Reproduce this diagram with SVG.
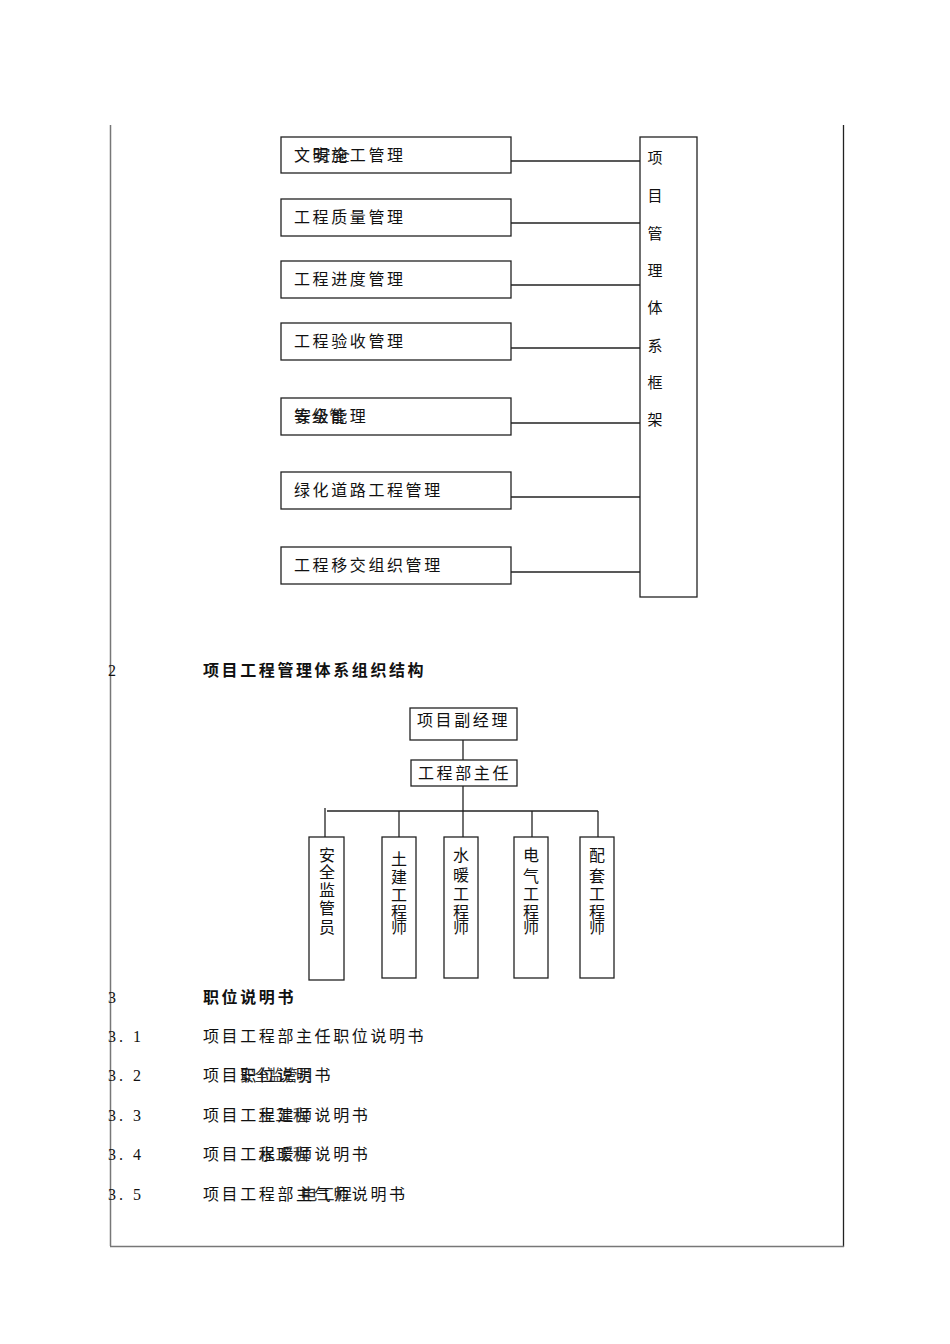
<svg xmlns="http://www.w3.org/2000/svg" width="950" height="1344" viewBox="0 0 950 1344">
<style>
.bx{fill:#fff;stroke:#222;stroke-width:1.3}
.ln{stroke:#222;stroke-width:1.3;fill:none}
.t{font-family:"Noto Sans CJK SC","Noto Sans CJK JP",sans-serif;font-size:16px;fill:#111;letter-spacing:2.6px}
.tv{font-family:"Noto Sans CJK SC","Noto Sans CJK JP",sans-serif;font-size:16px;fill:#111;text-anchor:middle}
.tb{font-family:"Noto Sans CJK SC","Noto Sans CJK JP",sans-serif;font-size:16px;fill:#111;font-weight:bold;letter-spacing:2.6px}
.num{font-family:"Liberation Serif",serif;font-size:16px;fill:#111;letter-spacing:3px}
.ov{font-family:"Noto Sans CJK SC","Noto Sans CJK JP",sans-serif;font-size:16px;fill:#111;opacity:0.85}
</style>
<rect width="950" height="1344" fill="#fff"/>
<g id="frame">
<line x1="110.5" y1="125" x2="110.5" y2="1246" stroke="#777" stroke-width="1.5"/>
<line x1="843.5" y1="125" x2="843.5" y2="1247" stroke="#222" stroke-width="1.3"/>
<line x1="110" y1="1246.5" x2="844" y2="1246.5" stroke="#777" stroke-width="1.5"/>
</g>
<g id="connectors">
<line class="ln" x1="511" y1="161" x2="640" y2="161"/>
<line class="ln" x1="511" y1="223" x2="640" y2="223"/>
<line class="ln" x1="511" y1="285" x2="640" y2="285"/>
<line class="ln" x1="511" y1="348" x2="640" y2="348"/>
<line class="ln" x1="511" y1="423" x2="640" y2="423"/>
<line class="ln" x1="511" y1="497" x2="640" y2="497"/>
<line class="ln" x1="511" y1="572" x2="640" y2="572"/>
<line class="ln" x1="463" y1="740" x2="463" y2="760"/>
<line class="ln" x1="463" y1="786" x2="463" y2="838"/>
<line class="ln" x1="327" y1="811" x2="598" y2="811"/>
<line class="ln" x1="325" y1="808" x2="325" y2="837"/>
<line class="ln" x1="399" y1="811" x2="399" y2="837"/>
<line class="ln" x1="532" y1="811" x2="532" y2="837"/>
<line class="ln" x1="598" y1="811" x2="598" y2="837"/>
</g>
<g id="n1"><rect class="bx" x="281" y="137" width="230" height="36"/><text class="t" x="294" y="161">文明施工管理</text><text class="ov" x="312" y="161" textLength="38" lengthAdjust="spacingAndGlyphs">安全</text></g>
<g id="n2"><rect class="bx" x="281" y="199" width="230" height="37"/><text class="t" x="294" y="223">工程质量管理</text></g>
<g id="n3"><rect class="bx" x="281" y="261" width="230" height="37"/><text class="t" x="294" y="285">工程进度管理</text></g>
<g id="n4"><rect class="bx" x="281" y="323" width="230" height="37"/><text class="t" x="294" y="347">工程验收管理</text></g>
<g id="n5"><rect class="bx" x="281" y="398" width="230" height="37"/><text class="t" x="294" y="422">等级能理</text><text class="ov" x="294" y="422" textLength="52" lengthAdjust="spacingAndGlyphs">安全管</text></g>
<g id="n6"><rect class="bx" x="281" y="472" width="230" height="37"/><text class="t" x="294" y="496">绿化道路工程管理</text></g>
<g id="n7"><rect class="bx" x="281" y="547" width="230" height="37"/><text class="t" x="294" y="571">工程移交组织管理</text></g>
<g id="frameBox"><rect class="bx" x="640" y="137" width="57" height="460"/>
<text class="tv" style="font-size:15px"><tspan x="655" y="163">项</tspan><tspan x="655" y="201">目</tspan><tspan x="655" y="239">管</tspan><tspan x="655" y="276">理</tspan><tspan x="655" y="313">体</tspan><tspan x="655" y="351">系</tspan><tspan x="655" y="388">框</tspan><tspan x="655" y="425">架</tspan></text></g>
<g id="sec2"><text class="num" x="108" y="676">2</text><text class="tb" x="203" y="676">项目工程管理体系组织结构</text></g>
<g id="o1"><rect class="bx" x="410" y="708" width="107" height="32"/><text class="t" x="417" y="726">项目副经理</text></g>
<g id="o2"><rect class="bx" x="411" y="760" width="106" height="26"/><text class="t" x="418" y="779">工程部主任</text></g>
<g id="o3"><rect class="bx" x="309" y="837" width="35" height="143"/>
<text class="tv"><tspan x="327" y="861">安</tspan><tspan x="327" y="878">全</tspan><tspan x="327" y="896">监</tspan><tspan x="327" y="914">管</tspan><tspan x="327" y="933">员</tspan></text></g>
<g id="o4"><rect class="bx" x="382" y="837" width="34" height="141"/>
<text class="tv"><tspan x="399" y="865">土</tspan><tspan x="399" y="883">建</tspan><tspan x="399" y="901">工</tspan><tspan x="399" y="918">程</tspan><tspan x="399" y="933">师</tspan></text></g>
<g id="o5"><rect class="bx" x="444" y="837" width="34" height="141"/>
<text class="tv"><tspan x="461" y="861">水</tspan><tspan x="461" y="881">暖</tspan><tspan x="461" y="900">工</tspan><tspan x="461" y="918">程</tspan><tspan x="461" y="933">师</tspan></text></g>
<g id="o6"><rect class="bx" x="514" y="837" width="34" height="141"/>
<text class="tv"><tspan x="531" y="861">电</tspan><tspan x="531" y="882">气</tspan><tspan x="531" y="900">工</tspan><tspan x="531" y="918">程</tspan><tspan x="531" y="933">师</tspan></text></g>
<g id="o7"><rect class="bx" x="580" y="837" width="34" height="141"/>
<text class="tv"><tspan x="597" y="861">配</tspan><tspan x="597" y="882">套</tspan><tspan x="597" y="900">工</tspan><tspan x="597" y="918">程</tspan><tspan x="597" y="933">师</tspan></text></g>
<g id="sec3"><text class="num" x="108" y="1003">3</text><text class="tb" x="203" y="1003">职位说明书</text>
<text class="num" x="108" y="1042">3. 1</text><text class="t" x="203" y="1042">项目工程部主任职位说明书</text>
<text class="num" x="108" y="1081">3. 2</text><text class="t" x="203" y="1081">项目职位说明书</text><text class="ov" x="240" y="1081" textLength="72" lengthAdjust="spacingAndGlyphs">安全监管员</text>
<text class="num" x="108" y="1121">3. 3</text><text class="t" x="203" y="1121">项目工程建师说明书</text><text class="ov" x="258" y="1121" textLength="52" lengthAdjust="spacingAndGlyphs">土工程</text>
<text class="num" x="108" y="1160">3. 4</text><text class="t" x="203" y="1160">项目工程暖师说明书</text><text class="ov" x="258" y="1160" textLength="52" lengthAdjust="spacingAndGlyphs">水工程</text>
<text class="num" x="108" y="1200">3. 5</text><text class="t" x="203" y="1200">项目工程部主气师说明书</text><text class="ov" x="300" y="1200" textLength="52" lengthAdjust="spacingAndGlyphs">电工程</text></g>
</svg>
